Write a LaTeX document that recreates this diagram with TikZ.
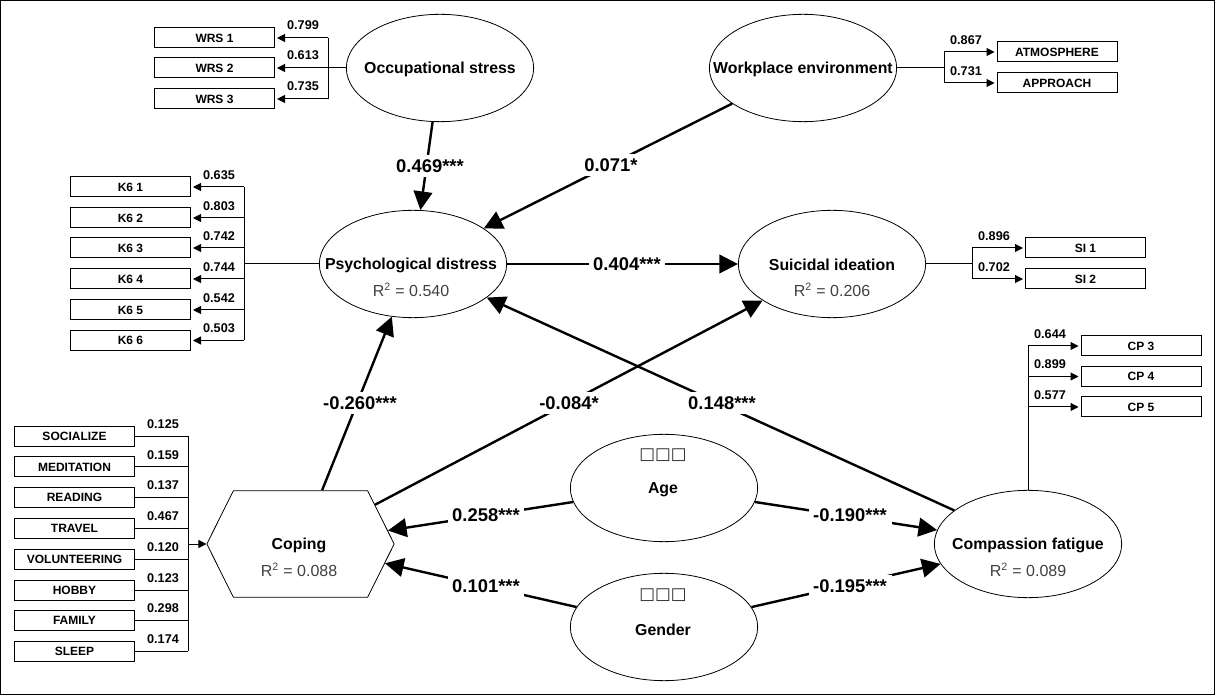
\documentclass[tikz,border=0pt]{standalone}
\usepackage{fontspec}
\setmainfont{Liberation Sans}
\newfontfamily\symfont{DejaVu Sans}
\usetikzlibrary{arrows.meta,shapes.geometric,shapes.symbols}
\tikzset{
  latent/.style={draw, ellipse, line width=0.6pt, inner sep=0pt, minimum width=140.5pt, minimum height=80.5pt},
  coping/.style={draw, signal, signal to=east and west, signal pointer angle=127, line width=0.6pt, inner sep=0pt, minimum width=140.5pt, minimum height=80pt},
  varname/.style={font=\bfseries\fontsize{11.9}{13}\selectfont},
  rsq/.style={font=\fontsize{12}{14}\selectfont, text=black!75},
  blank/.style={font=\symfont\fontsize{12.5}{14}\selectfont, text=black!85},
  indicator/.style={draw, line width=0.75pt, inner sep=0pt, minimum width=90pt, minimum height=15pt, font=\bfseries\fontsize{9}{10}\selectfont},
  loading/.style={inner sep=0pt, font=\bfseries\fontsize{9.5}{11}\selectfont},
  bus/.style={line width=0.75pt},
  load/.style={line width=0.75pt, -{Triangle[length=6pt,width=6pt]}, shorten >=1.5pt},
  effect/.style={line width=1.8pt, -{Triangle[length=14pt,width=14pt]}},
  coef/.style={fill=white, inner sep=3.5pt, font=\bfseries\fontsize{13.8}{15}\selectfont}
}
\begin{document}
\begin{tikzpicture}[x=0.75pt, y=-0.75pt]
\useasboundingbox (0,0) rectangle (1215,695);
\draw[line width=0.9pt] (0.5,0.5) rectangle (1214.5,694.5);
%latent variables
\node[latent] (occ) at (440,68) {};
\node[latent] (work) at (803,68) {};
\node[latent] (psy) at (413,264) {};
\node[latent] (sui) at (832,264) {};
\node[latent] (comp) at (1028,544) {};
\node[latent] (age) at (664,488) {};
\node[latent] (gen) at (664,627) {};
\node[coping] (cop) at (300.5,544) {};
%texts in the shapes
\node[varname] (occname) at (440,69) {Occupational stress};
\node[varname] (workname) at (803,69) {Workplace environment};
\node[varname] (psyname) at (411,265) {Psychological distress};
\node[rsq] (psyr) at (411,290) {R\textsuperscript{2} = 0.540};
\node[varname] (suiname) at (832,265) {Suicidal ideation};
\node[rsq] (suir) at (832,290) {R\textsuperscript{2} = 0.206};
\node[varname] (compname) at (1028,545) {Compassion fatigue};
\node[rsq] (compr) at (1028,570) {R\textsuperscript{2} = 0.089};
\node[varname] (copname) at (299,545) {Coping};
\node[rsq] (copr) at (299,570) {R\textsuperscript{2} = 0.088};
\node[blank] (ageblank) at (663,455) {□□□};
\node[varname] (agename) at (663,490) {Age};
\node[blank] (genblank) at (663,595) {□□□};
\node[varname] (genname) at (663,630) {Gender};

%occupational stress indicators
\coordinate (occbus) at (328,68);
\foreach \i/\y/\val in {1/38/0.799, 2/68/0.613, 3/99/0.735}{
  \node[indicator] (wrs\i) at (214.5,\y) {WRS \i};
  \node[loading] (wrsval\i) at (303,\y-13) {\val};
  \draw[load] (occbus |- wrs\i.east) -- (wrs\i.east);
}
\draw[bus] (occbus |- wrs1.east) -- (occbus |- wrs3.east);
\draw[bus] (occ.west) -- (occbus);

%workplace indicators
\coordinate (workbus) at (944,68);
\foreach \n/\txt/\y/\val in {atm/ATMOSPHERE/52/0.867, app/APPROACH/83/0.731}{
  \node[indicator] (\n) at (1057,\y) {\txt};
  \node[loading] (\n val) at (966,\y-12) {\val};
  \draw[load] (workbus |- \n.west) -- (\n.west);
}
\draw[bus] (workbus |- atm.west) -- (workbus |- app.west);
\draw[bus] (work.east) -- (workbus);

%psychological distress indicators
\coordinate (psybus) at (244,264);
\foreach \i/\y/\val in {1/187/0.635, 2/218/0.803, 3/248/0.742, 4/279/0.744, 5/310/0.542, 6/340.5/0.503}{
  \node[indicator] (ksix\i) at (130.5,\y) {K6 \i};
  \node[loading] (ksixval\i) at (219,\y-12) {\val};
  \draw[load] (psybus |- ksix\i.east) -- (ksix\i.east);
}
\draw[bus] (psybus |- ksix1.east) -- (psybus |- ksix6.east);
\draw[bus] (psy.west) -- (psybus);

%suicidal ideation indicators
\coordinate (suibus) at (972,264);
\foreach \i/\y/\val in {1/248/0.896, 2/279/0.702}{
  \node[indicator] (si\i) at (1085.5,\y) {SI \i};
  \node[loading] (sival\i) at (994,\y-12) {\val};
  \draw[load] (suibus |- si\i.west) -- (si\i.west);
}
\draw[bus] (suibus |- si1.west) -- (suibus |- si2.west);
\draw[bus] (sui.east) -- (suibus);

%compassion fatigue indicators
\foreach \i/\y/\val in {3/346/0.644, 4/376.5/0.899, 5/407/0.577}{
  \node[indicator] (cp\i) at (1141,\y) {CP \i};
  \node[loading] (cpval\i) at (1050,\y-12) {\val};
  \draw[load] (comp.north |- cp\i.west) -- (cp\i.west);
}
\draw[bus] (comp.north) -- (comp.north |- cp3.west);

%coping indicators
\coordinate (copbus) at (188,544);
\foreach \n/\txt/\y/\val in {soc/SOCIALIZE/436.5/0.125, med/MEDITATION/467/0.159, rea/READING/497.5/0.137, tra/TRAVEL/528/0.467, vol/VOLUNTEERING/559/0.120, hob/HOBBY/590/0.123, fam/FAMILY/620.5/0.298, sle/SLEEP/651/0.174}{
  \node[indicator] (\n) at (74.5,\y) {\txt};
  \node[loading] (\n val) at (163,\y-12) {\val};
  \draw[bus] (\n.east) -- (copbus |- \n.east);
}
\draw[bus] (copbus |- soc.east) -- (copbus |- sle.east);
\draw[load, shorten >=0pt] (copbus) -- (cop.west);

%structural paths
\draw[effect] (occ) -- (psy);
\draw[effect] (work) -- (psy);
\draw[effect] (psy) -- (sui);
\draw[effect] (cop) -- (psy);
\draw[effect] (cop) -- (sui);
\draw[effect] (comp) -- (psy);
\draw[effect] (age) -- (cop);
\draw[effect] (gen) -- (cop);
\draw[effect] (age) -- (comp);
\draw[effect] (gen) -- (comp);
%path coefficients
\node[coef] (occpsy) at (430,166) {0.469***};
\node[coef] (workpsy) at (611,165) {0.071*};
\node[coef] (psysui) at (627,264) {0.404***};
\node[coef] (coppsy) at (360,403) {-0.260***};
\node[coef] (copsui) at (569,403) {-0.084*};
\node[coef] (comppsy) at (722,403) {0.148***};
\node[coef] (agecop) at (486,515) {0.258***};
\node[coef] (gencop) at (486,586) {0.101***};
\node[coef] (agecomp) at (850,515) {-0.190***};
\node[coef] (gencomp) at (850,586) {-0.195***};
\end{tikzpicture}
\end{document}
